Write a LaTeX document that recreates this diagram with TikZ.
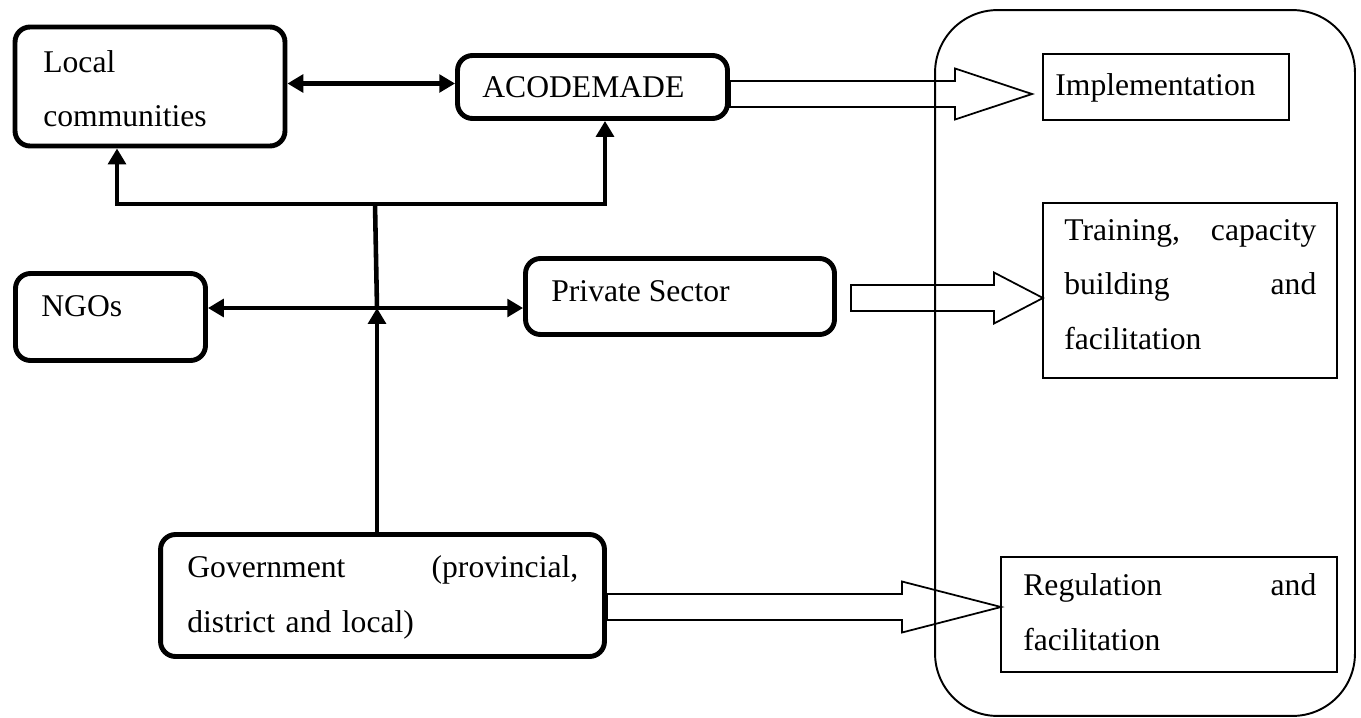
\documentclass[tikz,border=0pt]{standalone}
\usepackage{fontspec}
\setmainfont{Liberation Serif}
\usetikzlibrary{arrows.meta, calc}

\tikzset{
  grp/.style={draw, line width=2.8pt, rounded corners=0.3cm, inner sep=0pt},
  role/.style={draw, line width=1.1pt, inner sep=0pt},
  link/.style={line width=2.6pt},
  hollow/.style={draw, line width=1pt, line join=miter},
  txt/.style={inner sep=0pt, anchor=base west, align=left,
    font=\fontsize{18}{31.3}\selectfont},
}

% wide open arrow: start, tip, head length
\newcommand{\fatarrow}[3]{%
  \draw[hollow] let \p1=(#1), \p2=(#2) in
    (\x1,\y2+0.26cm) -- (\x2-#3,\y2+0.26cm) -- (\x2-#3,\y2+0.51cm)
    -- (\x2,\y2) -- (\x2-#3,\y2-0.51cm) -- (\x2-#3,\y2-0.26cm)
    -- (\x1,\y2-0.26cm) -- cycle;}

\begin{document}
\begin{tikzpicture}[x=0.02cm, y=-0.02cm, >={Triangle[length=9pt, width=10pt]}]

    \useasboundingbox (0,0) rectangle (1361,717);

    % the actors
    \node[grp, minimum width=5.4cm, minimum height=2.38cm] (local) at (150,86.5) {};
    \node[grp, minimum width=5.4cm, minimum height=1.26cm] (acod) at (592.5,87) {};
    \node[grp, minimum width=3.8cm, minimum height=1.74cm] (ngo) at (110.5,317) {};
    \node[grp, minimum width=6.18cm, minimum height=1.52cm] (priv) at (680,296.5) {};
    \node[grp, minimum width=8.88cm, minimum height=2.44cm] (gov) at (382.5,595.5) {};

    % the roles
    \node[role, rounded corners=1.25cm, minimum width=8.4cm, minimum height=14.12cm] (roles) at (1145,363) {};
    \node[role, minimum width=4.92cm, minimum height=1.32cm] (impl) at (1166,87) {};
    \node[role, minimum width=5.88cm, minimum height=3.5cm] (train) at (1190,290.5) {};
    \node[role, minimum width=6.72cm, minimum height=2.3cm] (reg) at (1169,614.5) {};

    % labels
    \node[txt, text width=5cm] (localT) at (43,72) {Local\\communities};
    \node[txt] (acodT) at (482,97) {ACODEMADE};
    \node[txt] (implT) at (1055,95) {Implementation};
    \node[txt] (ngoT) at (41,316) {NGOs};
    \node[txt] (privT) at (551,301) {Private Sector};
    \node[txt, text width=5.04cm] (trainT) at (1064,240) {Training,\hfill capacity\\building\hfill and\\facilitation};
    \node[txt, text width=7.82cm] (govT) at (187,577) {Government\hfill (provincial,\\district and local)};
    \node[txt, text width=5.86cm] (regT) at (1023,595) {Regulation\hfill and\\facilitation};

    % junction points
    \coordinate (jl) at (117,204);
    \coordinate (jm) at (375,204);
    \coordinate (jr) at (605,204);
    \coordinate (hub) at (377,308);

    % links between actors
    \draw[link, <->] ([yshift=0.06cm]local.east) -- ([yshift=0.06cm]local.east -| acod.west);
    \draw[link, <->] (jl |- local.south) -- (jl) -- (jr) -- (jr |- acod.south);
    \draw[link] (jm) -- (hub);
    \draw[link, ->] (gov.north -| hub) -- (hub);
    \draw[link, <->] (ngo.east |- hub) -- (priv.west |- hub);

    % open arrows into the roles
    \coordinate (tipA) at (1032,94);
    \coordinate (tipB) at (1043,298);
    \coordinate (tipC) at (1001,607);
    \fatarrow{acod.east}{tipA}{1.54cm}
    \fatarrow{$(priv.east)+(14,0)$}{tipB}{0.98cm}
    \fatarrow{gov.east}{tipC}{1.98cm}

\end{tikzpicture}
\end{document}
